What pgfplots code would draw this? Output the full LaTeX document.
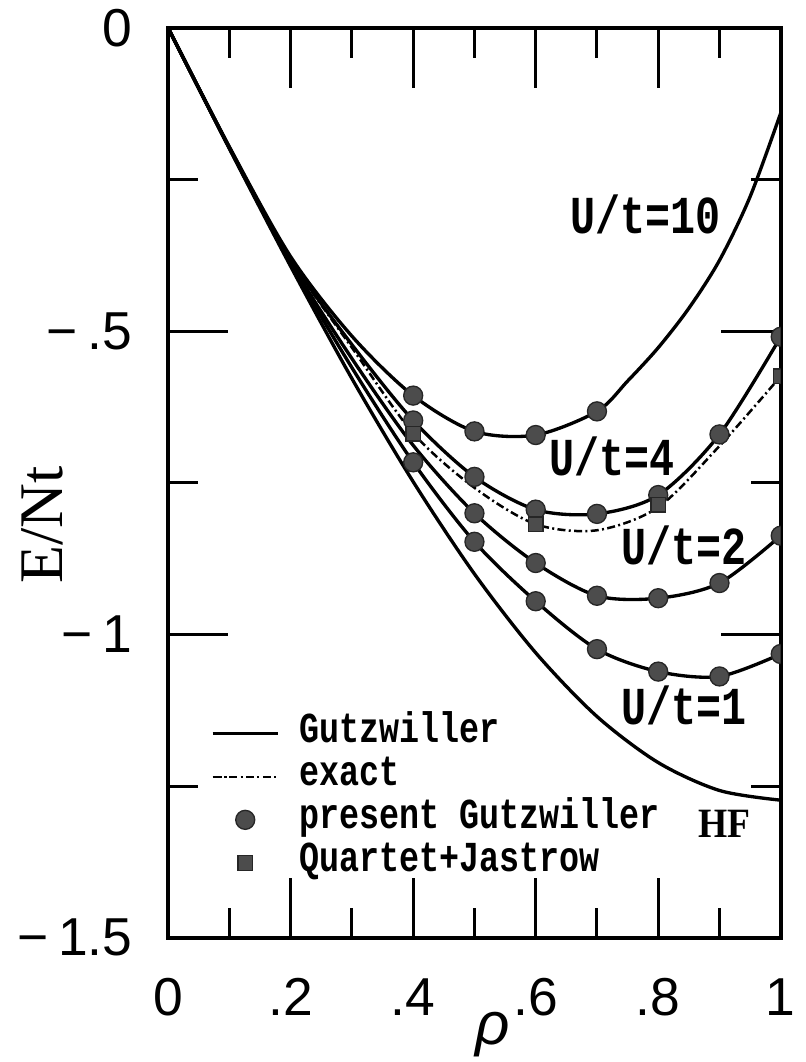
\documentclass[border=0pt]{standalone}
\usepackage{fontspec}
\setmainfont{Liberation Serif}
\newfontfamily\sansf{Liberation Sans}
\newfontfamily\monof{Liberation Mono}
\usepackage{pgfplots}
\pgfplotsset{compat=1.18}
\newcommand{\lt}[1]{\scalebox{1}[1.28]{#1}}
\pgfplotsset{
  gline/.style={black, line width=1pt, smooth, tension=0.5, mark=none, forget plot},
  exline/.style={black, line width=0.75pt, smooth, tension=0.5, mark=none, dash pattern=on 2.4pt off 1pt on 0.6pt off 1pt},
  circ/.style={only marks, mark=*, mark size=2.85pt, mark options={solid, fill=black!70, draw=black!85, line width=0.4pt}},
  sq/.style={only marks, mark=square*, mark size=2.2pt, mark options={solid, fill=black!70, draw=black!85, line width=0.4pt}},
}
\begin{document}
\begin{tikzpicture}
\begin{axis}[
  at={(0pt,0pt)}, anchor=south west,
  scale only axis, width=183.6pt, height=272.7pt,
  xmin=0, xmax=1, ymin=-1.5, ymax=0,
  xtick={0,0.2,0.4,0.6,0.8,1},
  xticklabels={0,.2,.4,.6,.8,1},
  minor xtick={0.1,0.3,0.5,0.7,0.9},
  ytick={-1.5,-1,-0.5,0},
  yticklabels={−\kern3pt1.5,−\kern3pt1,−\kern3pt.5,0},
  minor ytick={-1.25,-0.75,-0.25},
  tick align=inside,
  major tick length=18pt, minor tick length=9pt,
  tick style={black, line width=0.9pt},
  axis line style={line width=1.2pt},
  xticklabel style={font=\sansf\fontsize{16}{16}\selectfont, inner sep=0pt, yshift=-12pt},
  yticklabel style={font=\sansf\fontsize{16}{16}\selectfont, inner sep=0pt, xshift=-10.5pt},
  ylabel={E/Nt},
  ylabel style={at={(axis description cs:-0.206,0.454)}, anchor=center, font=\fontsize{18.6}{18.6}\selectfont},
  xlabel={ρ},
  xlabel style={at={(axis description cs:0.53,0)}, anchor=center, yshift=-29pt, font=\sansf\itshape\fontsize{18}{18}\selectfont},
  clip marker paths=true,
  legend image code/.code={\draw[mark repeat=2,mark phase=2,#1] plot coordinates {(0pt,0pt) (9.75pt,0pt) (19.5pt,0pt)};},
  legend style={at={(axis cs:0.07,-1.128)}, anchor=north west, draw=none, fill=none, inner sep=0pt, outer sep=0pt,
    column sep=6pt, font=\monof\bfseries\fontsize{10}{10}\selectfont,
    nodes={inner sep=0pt, text height=9pt, text depth=3.9pt}},
  legend cell align=left,
]
% HF (free)
\addplot[gline] coordinates {(0,0) (0.1,-0.199) (0.2,-0.393) (0.3,-0.578) (0.4,-0.748) (0.5,-0.900) (0.6,-1.030) (0.7,-1.135) (0.8,-1.211) (0.9,-1.257) (1.0,-1.273)};
% U/t=1 Gutzwiller
\addplot[gline] coordinates {(0,0) (0.1,-0.198) (0.2,-0.389) (0.3,-0.560) (0.4,-0.716) (0.5,-0.847) (0.6,-0.945) (0.7,-1.024) (0.8,-1.061) (0.9,-1.069) (1.0,-1.032)};
% U/t=2
\addplot[gline] coordinates {(0,0) (0.1,-0.198) (0.2,-0.386) (0.3,-0.545) (0.4,-0.688) (0.5,-0.800) (0.6,-0.882) (0.7,-0.936) (0.8,-0.940) (0.9,-0.915) (1.0,-0.837)};
% U/t=4
\addplot[gline] coordinates {(0,0) (0.1,-0.197) (0.2,-0.381) (0.3,-0.522) (0.4,-0.647) (0.5,-0.740) (0.6,-0.794) (0.7,-0.801) (0.8,-0.770) (0.9,-0.670) (1.0,-0.509)};
% U/t=10
\addplot[gline] coordinates {(0,0) (0.1,-0.196) (0.2,-0.377) (0.3,-0.508) (0.4,-0.606) (0.5,-0.665) (0.6,-0.671) (0.7,-0.632) (0.75,-0.582) (0.8,-0.527) (0.85,-0.462) (0.9,-0.383) (0.95,-0.278) (1.0,-0.140)};
% exact U/t=4
\addplot[exline, forget plot] coordinates {(0,0) (0.1,-0.197) (0.2,-0.382) (0.3,-0.527) (0.4,-0.668) (0.5,-0.758) (0.6,-0.818) (0.7,-0.828) (0.8,-0.790) (0.9,-0.689) (1.0,-0.574)};
% present Gutzwiller
\addplot[circ, forget plot] coordinates {(0.4,-0.606) (0.5,-0.665) (0.6,-0.671) (0.7,-0.632)};
\addplot[circ, forget plot] coordinates {(0.4,-0.647) (0.5,-0.740) (0.6,-0.794) (0.7,-0.801) (0.8,-0.770) (0.9,-0.670) (1.0,-0.509)};
\addplot[circ, forget plot] coordinates {(0.5,-0.800) (0.6,-0.882) (0.7,-0.936) (0.8,-0.940) (0.9,-0.915) (1.0,-0.837)};
\addplot[circ, forget plot] coordinates {(0.4,-0.716) (0.5,-0.847) (0.6,-0.945) (0.7,-1.024) (0.8,-1.061) (0.9,-1.069) (1.0,-1.032)};
% Quartet+Jastrow
\addplot[sq, forget plot] coordinates {(0.4,-0.669) (0.6,-0.818) (0.8,-0.786) (1.0,-0.574)};
% legend
\addlegendimage{black, line width=1pt}
\addlegendentry{\lt{Gutzwiller}}
\addlegendimage{exline}
\addlegendentry{\lt{exact}}
\addlegendimage{circ}
\addlegendentry{\lt{present Gutzwiller}}
\addlegendimage{sq}
\addlegendentry{\lt{Quartet+Jastrow}}
% curve labels
\node[anchor=base west, inner sep=0pt, font=\monof\bfseries\fontsize{12.5}{12.5}\selectfont] at (axis cs:0.655,-0.339) {\lt{U/t=10}};
\node[anchor=base west, inner sep=0pt, font=\monof\bfseries\fontsize{12.5}{12.5}\selectfont] at (axis cs:0.621,-0.738) {\lt{U/t=4}};
\node[anchor=base west, inner sep=0pt, font=\monof\bfseries\fontsize{12.5}{12.5}\selectfont] at (axis cs:0.739,-0.885) {\lt{U/t=2}};
\node[anchor=base west, inner sep=0pt, font=\monof\bfseries\fontsize{12.5}{12.5}\selectfont] at (axis cs:0.739,-1.148) {\lt{U/t=1}};
\node[anchor=base west, inner sep=0pt, font=\bfseries\fontsize{12.5}{12.5}\selectfont] at (axis cs:0.865,-1.335) {\scalebox{0.9}[1]{HF}};
\end{axis}
\pgfresetboundingbox
\useasboundingbox (-50.4pt,-37.2pt) rectangle (191.1pt,281.1pt);
\end{tikzpicture}
\end{document}
